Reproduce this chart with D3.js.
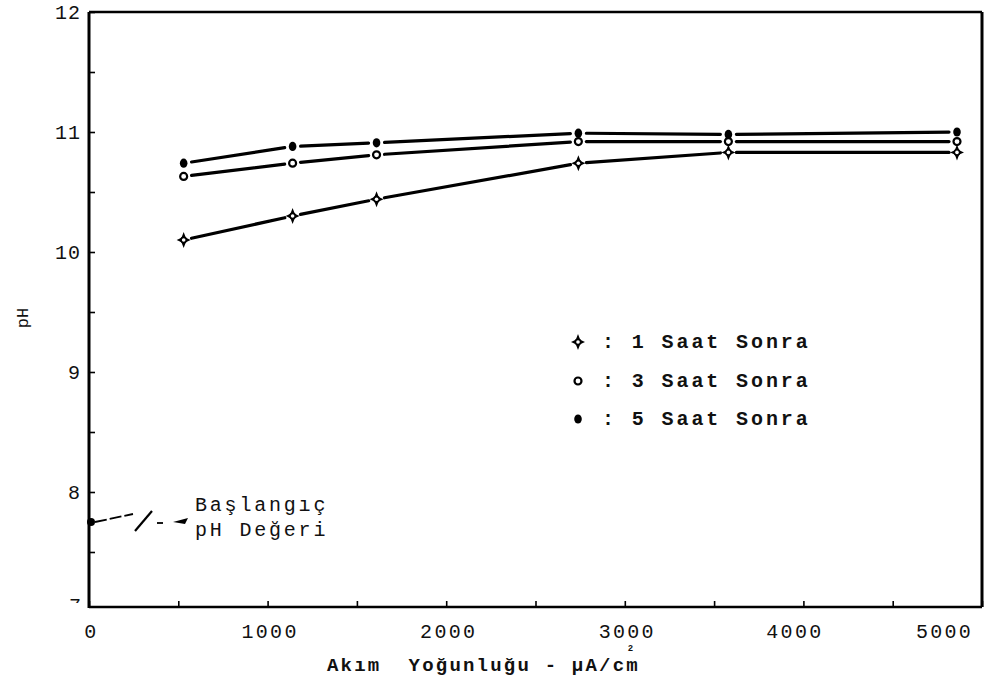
<!DOCTYPE html>
<html>
<head>
<meta charset="utf-8">
<script src="https://cdn.jsdelivr.net/npm/d3@7"></script>
<style>
  html, body { margin: 0; padding: 0; background: #fff; }
  svg { display: block; }
  text { font-family: "Liberation Mono", "DejaVu Sans Mono", monospace; fill: #111; }
</style>
</head>
<body>
<svg id="chart" width="1006" height="691"></svg>
<script>
// ---- data ----
const currentDensity = [530, 1140, 1610, 2740, 3580, 4860];   // µA/cm²
const ph1h = [10.10, 10.30, 10.44, 10.74, 10.83, 10.83];      // 1 Saat Sonra
const ph3h = [10.63, 10.74, 10.81, 10.92, 10.92, 10.92];      // 3 Saat Sonra
const ph5h = [10.74, 10.88, 10.91, 10.99, 10.98, 11.00];      // 5 Saat Sonra
const seriesLabels = ["1 Saat Sonra", "3 Saat Sonra", "5 Saat Sonra"];
const seriesKinds = ["star", "open", "filled"];
const initialPH = 7.75;
const xTickLabels = [0, 1000, 2000, 3000, 4000, 5000];
const yTickLabels = [8, 9, 10, 11, 12];
const xTitle = "Akım  Yoğunluğu - μA/cm";
const yTitle = "pH";
const noteLines = ["Başlangıç", "pH Değeri"];

const svg = d3.select("#chart");
const L = 89, R = 982, T = 12, B = 607;
const x = d3.scaleLinear().domain([0, 5000]).range([L, R]);
const y = d3.scaleLinear().domain([7, 12]).range([612, T]);

// ---- frame ----
svg.append("line").attr("x1", L).attr("x2", R).attr("y1", T).attr("y2", T)
  .attr("stroke", "#000").attr("stroke-width", 2.5);
svg.append("line").attr("x1", R).attr("x2", R).attr("y1", T).attr("y2", B)
  .attr("stroke", "#000").attr("stroke-width", 3);
svg.append("line").attr("x1", L).attr("x2", R).attr("y1", B).attr("y2", B)
  .attr("stroke", "#000").attr("stroke-width", 2.5);
svg.append("line").attr("x1", L).attr("x2", L).attr("y1", T).attr("y2", B + 1)
  .attr("stroke", "#000").attr("stroke-width", 3);

// ---- y axis ----
const yAxis = d3.axisLeft(y)
  .tickValues(d3.range(7.5, 12.01, 0.5))
  .tickSize(-6).tickPadding(8)
  .tickFormat(d => yTickLabels.includes(d) ? String(d) : "");
const gy = svg.append("g").attr("transform", `translate(${L},0)`).call(yAxis);
gy.select(".domain").remove();
gy.selectAll(".tick line").attr("stroke", "#000").attr("stroke-width", 1.6);
gy.selectAll(".tick text").attr("font-size", 20).attr("letter-spacing", 1).attr("fill", "#111")
  .style("font-family", '"Liberation Mono", monospace');

// clipped "7" at the bottom of the y axis
svg.append("clipPath").attr("id", "clip7").append("rect")
  .attr("x", 60).attr("y", 590).attr("width", 28).attr("height", 13);
svg.append("text").attr("x", 81).attr("y", 612).attr("text-anchor", "end")
  .attr("font-size", 20).attr("clip-path", "url(#clip7)").text("7");

// ---- x axis ----
const xAxis = d3.axisBottom(x)
  .tickValues(d3.range(0, 5001, 500))
  .tickSize(-6).tickPadding(17)
  .tickFormat(d => xTickLabels.includes(d) ? String(d) : "");
const gx = svg.append("g").attr("transform", `translate(0,${B})`).call(xAxis);
gx.select(".domain").remove();
gx.selectAll(".tick line").attr("stroke", "#000").attr("stroke-width", 1.6);
gx.selectAll(".tick text").attr("font-size", 20).attr("letter-spacing", 2.3)
  .attr("dx", d => d === 5000 ? -38 : d === 4000 ? -9 : 2)
  .attr("fill", "#111");

// ---- axis titles ----
const xt = svg.append("text").attr("x", 327).attr("y", 671)
  .attr("font-size", 19).attr("font-weight", "bold").attr("letter-spacing", 2.2)
  .style("white-space", "pre");
xt.append("tspan").text(xTitle);
xt.append("tspan").attr("dx", -12).attr("dy", -20).attr("font-size", 9).text("2");
svg.append("text").attr("transform", "translate(28,318) rotate(-90)")
  .attr("text-anchor", "middle").attr("font-size", 17).text(yTitle);

// ---- markers ----
function drawMarker(g, kind, cx, cy) {
  if (kind === "star") {
    g.append("path")
      .attr("d", "M0,-8 L2.2,-2.2 L7,0 L2.2,2.2 L0,8 L-2.2,2.2 L-7,0 L-2.2,-2.2Z")
      .attr("transform", `translate(${cx},${cy})`).attr("fill", "#000");
    g.append("circle").attr("cx", cx).attr("cy", cy).attr("r", 3.4)
      .attr("fill", "#000");
    g.append("circle").attr("cx", cx).attr("cy", cy).attr("r", 1.8)
      .attr("fill", "#fff");
  } else if (kind === "open") {
    g.append("circle").attr("cx", cx).attr("cy", cy).attr("r", 3.5)
      .attr("fill", "#fff").attr("stroke", "#000").attr("stroke-width", 2.2);
  } else {
    g.append("ellipse").attr("cx", cx).attr("cy", cy).attr("rx", 3.8).attr("ry", 4.6)
      .attr("fill", "#000");
  }
}

// ---- series ----
const allSeries = [ph1h, ph3h, ph5h];
const gap = 8;
const plot = svg.append("g");
allSeries.forEach((vals, si) => {
  const pts = currentDensity.map((c, i) => [x(c), y(vals[i])]);
  for (let i = 0; i < pts.length - 1; i++) {
    const [x1, y1] = pts[i], [x2, y2] = pts[i + 1];
    const len = Math.hypot(x2 - x1, y2 - y1);
    const ux = (x2 - x1) / len, uy = (y2 - y1) / len;
    plot.append("line")
      .attr("x1", x1 + ux * gap).attr("y1", y1 + uy * gap)
      .attr("x2", x2 - ux * gap).attr("y2", y2 - uy * gap)
      .attr("stroke", "#000").attr("stroke-width", 3.2).attr("stroke-linecap", "round");
  }
});
allSeries.forEach((vals, si) => {
  currentDensity.forEach((c, i) => drawMarker(plot, seriesKinds[si], x(c), y(vals[i])));
});

// ---- legend ----
const leg = svg.append("g");
const legY = [342, 381, 419];
seriesLabels.forEach((lab, i) => {
  drawMarker(leg, seriesKinds[i], 578, legY[i]);
  leg.append("text").attr("x", 602).attr("y", legY[i] + 6)
    .attr("font-size", 20).attr("font-weight", "bold").attr("letter-spacing", 2.9)
    .text(": " + lab);
});

// ---- initial pH annotation ----
const ip = y(initialPH);
svg.append("circle").attr("cx", L + 2).attr("cy", ip).attr("r", 4).attr("fill", "#000");
const ann = svg.append("g").attr("stroke", "#000").attr("stroke-width", 1.8);
ann.append("line").attr("x1", L + 6).attr("y1", ip).attr("x2", 133).attr("y2", ip - 8)
  .attr("stroke-dasharray", "12,3");
ann.append("line").attr("x1", 135).attr("y1", ip + 9).attr("x2", 152).attr("y2", ip - 11)
  .attr("stroke-width", 2.2);
ann.append("line").attr("x1", 157).attr("y1", ip + 1).attr("x2", 163).attr("y2", ip + 1);
svg.append("path")
  .attr("d", `M173,${ip} L188,${ip - 4} L185,${ip + 2}Z`).attr("fill", "#000");
noteLines.forEach((t, i) => {
  svg.append("text").attr("x", 195).attr("y", 511 + i * 25)
    .attr("font-size", 20).attr("letter-spacing", 2.8)
    .text(t);
});
</script>
</body>
</html>
